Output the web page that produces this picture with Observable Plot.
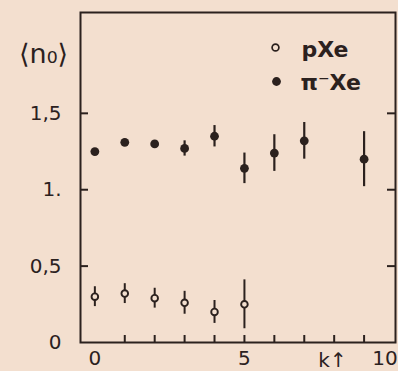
<!DOCTYPE html>
<html><head><meta charset="utf-8">
<script src="https://cdn.jsdelivr.net/npm/d3@7"></script>
<script src="https://cdn.jsdelivr.net/npm/@observablehq/plot@0.6"></script>
<style>
html,body{margin:0;padding:0;background:#f3dfcf;}
#chart svg{display:block;}
</style></head><body><div id="chart"></div>
<script>
// π⁻Xe (filled)
const kPi = [0, 1, 2, 3, 4, 5, 6, 7, 9];
const nPi = [1.25, 1.31, 1.30, 1.27, 1.35, 1.14, 1.24, 1.32, 1.20];
const errPi = [0.02, 0.02, 0.02, 0.05, 0.07, 0.10, 0.12, 0.12, 0.18];
// pXe (open)
const kP = [0, 1, 2, 3, 4, 5];
const nP = [0.30, 0.32, 0.29, 0.26, 0.20, 0.25];
const errP = [0.065, 0.065, 0.065, 0.075, 0.075, 0.16];

const xTicks = [0, 1, 2, 3, 4, 5, 6, 7, 8, 9, 10];
const xTickLabels = ["0", "5"];
const xTickLabelValues = [0, 5];
const xLastLabel = "10";
const xLastValue = 10;
const yTicks = [0, 0.5, 1, 1.5];
const yTickLabels = ["0", "0,5", "1.", "1,5"];
const seriesNames = ["pXe", "π⁻Xe"];
const xLabel = "k↑";
const yLabel = "⟨n₀⟩";

const pi = kPi.map((k, i) => ({k, n: nPi[i], e: errPi[i]}));
const p = kP.map((k, i) => ({k, n: nP[i], e: errP[i]}));

const ink = "#2b211e";
const bg = "#f3dfcf";
const W = 398, H = 371, mL = 80, mT = 12, mR = 3, mB = 29;
const fw = W - mL - mR, fh = H - mT - mB;
const xDom = [-0.48, 10.05], yDom = [0, 2.16];
// tick lengths (px) converted to data units
const xTickLen = 7 * (yDom[1] - yDom[0]) / fh;
const yTickLen = 8 * (xDom[1] - xDom[0]) / fw;

const chart = Plot.plot({
  width: W, height: H,
  marginLeft: mL, marginTop: mT, marginRight: mR, marginBottom: mB,
  style: {background: bg, fontFamily: "DejaVu Sans", fontSize: "20px", color: ink},
  x: {domain: xDom},
  y: {domain: yDom},
  marks: [
    // inward ticks
    Plot.ruleX(xTicks.slice(1, -1), {x: d => d, y1: yDom[0], y2: yDom[0] + xTickLen, stroke: ink, strokeWidth: 2}),
    Plot.ruleY(yTicks.slice(1), {y: d => d, x1: xDom[0], x2: xDom[0] + yTickLen, stroke: ink, strokeWidth: 2}),
    Plot.ruleY(yTicks.slice(1), {y: d => d, x1: xDom[1] - yTickLen, x2: xDom[1], stroke: ink, strokeWidth: 2}),
    Plot.frame({stroke: ink, strokeWidth: 2}),
    Plot.axisX({ticks: xTickLabelValues, tickSize: 0, tickPadding: 8, tickFormat: (d, i) => xTickLabels[i], label: null, fontSize: 20}),
    Plot.axisX({ticks: [xLastValue], tickSize: 0, tickPadding: 8, dx: -9, tickFormat: () => xLastLabel, label: null, fontSize: 20}),
    Plot.axisY({ticks: yTicks, tickSize: 0, tickPadding: 19, tickFormat: d => yTickLabels[yTicks.indexOf(d)], label: null, fontSize: 20}),
    Plot.ruleX(pi, {x: "k", y1: d => d.n - d.e, y2: d => d.n + d.e, stroke: ink, strokeWidth: 2.2}),
    Plot.ruleX(p, {x: "k", y1: d => d.n - d.e, y2: d => d.n + d.e, stroke: ink, strokeWidth: 2}),
    Plot.dot(pi, {x: "k", y: "n", r: 4.4, fill: ink, stroke: null}),
    Plot.dot(p, {x: "k", y: "n", r: 3.3, fill: bg, stroke: ink, strokeWidth: 1.9}),
    // legend
    Plot.dot([seriesNames[0]], {frameAnchor: "top-left", dx: 195, dy: 35, r: 3.4, fill: bg, stroke: ink, strokeWidth: 1.7}),
    Plot.dot([seriesNames[1]], {frameAnchor: "top-left", dx: 196, dy: 69, r: 4.4, fill: ink, stroke: null}),
    Plot.text([seriesNames[0]], {text: d => d, frameAnchor: "top-left", dx: 221, dy: 37, textAnchor: "start", lineAnchor: "middle", fontWeight: "bold", fontSize: 22, fill: ink}),
    Plot.text([seriesNames[1]], {text: d => d, frameAnchor: "top-left", dx: 220, dy: 70, textAnchor: "start", lineAnchor: "middle", fontWeight: "bold", fontSize: 22, fill: ink}),
    // axis labels
    Plot.text([yLabel], {text: d => d, frameAnchor: "top-left", dx: -37, dy: 42, textAnchor: "middle", lineAnchor: "middle", fontSize: 27, fill: ink}),
    Plot.text([xLabel], {text: d => d, frameAnchor: "bottom-left", dx: 252, dy: 18, textAnchor: "middle", lineAnchor: "middle", fontSize: 20, fill: ink})
  ]
});
document.getElementById("chart").appendChild(chart);
</script>
</body></html>
